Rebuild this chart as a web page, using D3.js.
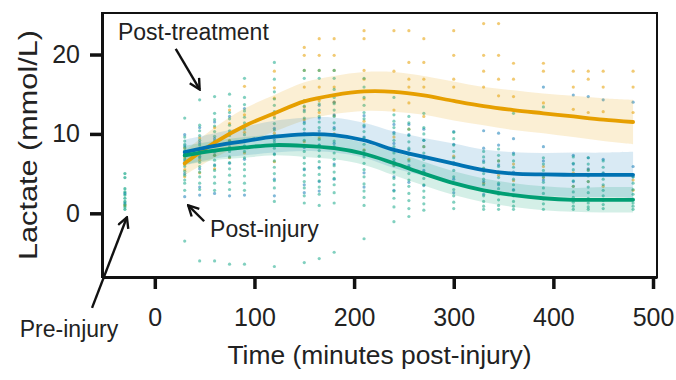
<!DOCTYPE html>
<html><head><meta charset="utf-8">
<script src="https://cdn.jsdelivr.net/npm/d3@7"></script>
<style>
html,body{margin:0;padding:0;background:#fff;}
svg{display:block;font-family:"Liberation Sans",Arial,Helvetica,sans-serif;}
</style></head>
<body>
<svg id="chart" width="676" height="380"></svg>
<script>
// ---------- data ----------
const xTicks = [0, 100, 200, 300, 400, 500];
const yTicks = [0, 10, 20];

const preInjuryTime = -30;
const preGreen = [5.0, 4.5, 3.1, 2.7, 2.3, 1.9, 1.5, 1.1, 0.8, 0.5];
const preBlue = [2.5, 1.3];
const preOrange = [1.0];

const times = [30, 45, 60, 75, 90, 120, 150, 165, 180, 210, 240, 255, 270, 300, 330, 345, 360, 390, 420, 435, 450, 480];

const greenPts = [
  [12.0, 9.6, 9.1, 8.7, 8.3, 7.9, 7.6, 7.2, 6.8, 6.3, 5.9, 5.3, 4.8, 4.2, 3.8, 2.9, -3.5],
  [14.3, 11.1, 10.4, 9.8, 9.2, 8.6, 8.1, 7.5, 7.0, 6.4, 5.9, 5.2, 4.6, 3.8, 3.0, -6.0],
  [14.7, 12.6, 11.8, 11.0, 10.3, 9.7, 9.1, 8.5, 7.9, 7.3, 6.7, 6.0, 5.4, 4.6, 3.8, 2.9, -6.0],
  [15.0, 13.5, 12.7, 11.9, 11.1, 10.4, 9.8, 9.1, 8.4, 7.8, 7.1, 6.4, 5.6, 4.8, 3.9, 3.0, -6.4],
  [17.0, 14.6, 13.7, 12.9, 12.1, 11.4, 10.6, 9.9, 9.2, 8.5, 7.8, 7.0, 6.2, 5.5, 4.7, 3.8, 2.9, -6.4],
  [19.0, 16.9, 15.3, 14.4, 13.6, 12.8, 12.0, 11.3, 10.5, 9.8, 9.0, 8.2, 7.4, 6.6, 5.8, 5.0, 4.1, 3.2, 1.5, -6.7],
  [18.0, 17.0, 14.2, 13.5, 12.8, 12.0, 11.3, 10.6, 9.9, 9.2, 8.5, 7.8, 7.0, 6.3, 5.6, 4.8, 4.0, 3.2, 2.2, 1.3, -6.2],
  [18.0, 17.0, 14.5, 13.8, 13.0, 12.2, 11.5, 10.8, 10.0, 9.3, 8.6, 7.9, 7.2, 6.5, 5.7, 4.9, 4.1, 3.3, 2.4, 1.0, -5.7],
  [18.0, 17.0, 15.6, 14.6, 13.8, 13.0, 12.2, 11.4, 10.6, 9.9, 9.1, 8.4, 7.6, 6.8, 6.0, 5.2, 4.4, 3.6, 2.6, 1.3, -4.9],
  [17.0, 15.9, 14.6, 13.6, 12.7, 11.9, 11.1, 10.3, 9.5, 8.7, 7.9, 7.1, 6.3, 5.5, 4.6, 3.7, 2.8, 2.0, 1.0, -3.2],
  [14.6, 12.4, 11.6, 10.8, 10.0, 9.2, 8.4, 7.6, 6.8, 6.0, 5.2, 4.4, 3.6, 2.8, 1.9, 0.8, -1.05],
  [12.2, 11.4, 10.6, 9.8, 9.0, 8.2, 7.4, 6.6, 5.8, 5.0, 4.2, 3.4, 2.5, 1.6, 0.6, -0.4],
  [12.6, 10.8, 10.0, 9.2, 8.4, 7.6, 6.8, 6.0, 5.2, 4.4, 3.6, 2.8, 2.0, 1.2, 0.4],
  [10.2, 9.4, 8.6, 7.8, 7.0, 6.2, 5.4, 4.6, 3.8, 3.0, 2.2, 1.4, 0.6],
  [7.8, 7.1, 6.4, 5.7, 5.0, 4.3, 3.6, 2.9, 2.2, 1.5, 0.9, 0.5],
  [8.1, 7.3, 6.6, 5.9, 5.2, 4.5, 3.8, 3.1, 2.4, 1.7, 1.0, 0.5],
  [12.6, 7.4, 6.6, 5.8, 5.0, 4.3, 3.6, 2.9, 2.2, 1.5, 0.9, 0.5],
  [13.4, 7.0, 6.2, 5.4, 4.6, 3.9, 3.2, 2.5, 1.8, 1.2, 0.5],
  [7.1, 6.3, 5.5, 4.8, 4.1, 3.4, 2.7, 2.0, 1.4, 0.9, 0.5],
  [7.0, 6.2, 5.4, 4.7, 4.0, 3.3, 2.6, 1.9, 1.3, 0.8, 0.5],
  [6.6, 5.8, 5.0, 4.3, 3.6, 2.9, 2.2, 1.6, 1.1, 0.6],
  [4.6, 3.8, 3.0, 2.4, 1.8, 1.3, 0.9, 0.5]
];

const bluePts = [
  [9.9, 8.5, 7.4, 6.6, 5.0, 2.1],
  [10.8, 8.9, 7.2, 5.6, 3.3, 2.3],
  [11.5, 9.4, 7.7, 6.1, 2.5],
  [12.2, 10.1, 8.2, 6.3, 2.2],
  [13.2, 11.0, 9.0, 6.8, 2.3],
  [12.6, 10.7, 9.3, 7.5, 4.3, 2.2],
  [13.0, 11.5, 10.1, 8.3, 5.5, 3.6, 2.6],
  [13.6, 12.0, 10.4, 8.6, 5.8, 4.0, 2.8],
  [14.0, 12.4, 10.8, 8.8, 6.2, 4.3],
  [12.3, 10.9, 9.6, 7.4, 5.1, 3.3],
  [11.2, 10.2, 8.8, 6.5, 4.6, 2.9],
  [11.2, 9.9, 8.0, 6.0, 3.9],
  [10.6, 9.2, 7.2, 5.4, 3.5],
  [10.3, 8.7, 6.4, 4.3, 2.6],
  [10.4, 8.2, 6.6, 4.0, 2.4],
  [10.1, 8.6, 6.1, 3.6],
  [9.4, 7.6, 5.2, 3.0],
  [15.9, 8.4, 6.6, 4.2],
  [14.9, 7.3, 6.2, 4.0],
  [14.7, 7.0, 5.6],
  [14.3, 6.8, 5.1],
  [14.0, 5.9, 4.6]
];

const orangePts = [
  [8.2, 7.0, 6.1, 5.5, 4.6],
  [9.5, 8.0, 6.7, 5.1],
  [10.8, 9.0, 7.3, 5.6],
  [13.0, 11.3, 9.2, 7.0],
  [16.0, 12.4, 10.2, 7.6],
  [17.9, 15.8, 14.5, 12.2, 10.1, 6.5],
  [20.9, 19.9, 18.0, 15.9, 13.4, 11.8, 9.0],
  [22.0, 19.9, 18.0, 15.9, 14.2, 12.7, 9.5],
  [22.0, 19.9, 18.0, 15.9, 14.0, 12.3, 10.0],
  [23.0, 22.0, 18.0, 16.9, 14.4, 11.6, 8.0],
  [23.0, 17.9, 13.0, 9.6, 6.1],
  [23.0, 19.0, 16.9, 15.9, 13.9, 10.6, 6.8],
  [22.0, 19.0, 16.9, 15.9, 12.2, 8.4],
  [23.0, 19.9, 16.9, 15.9, 7.2],
  [23.9, 19.9, 17.9, 15.9, 5.6, 3.8],
  [23.9, 19.9, 16.9, 14.8, 6.6, 4.8],
  [18.9, 16.9, 14.7, 6.2, 4.1],
  [18.9, 17.9, 13.9, 5.9, 4.5],
  [17.9, 15.9, 13.1, 5.1, 3.4],
  [17.9, 16.9, 12.7, 5.5, 4.0],
  [17.9, 15.9, 12.8, 4.9, 3.4],
  [17.9, 15.9, 12.7, 4.2, 2.9]
];

// fitted curves with confidence bands
const curveTimes = [30, 60, 90, 120, 150, 180, 210, 240, 270, 300, 330, 360, 390, 420, 450, 480];
const orangeMean = [6.3, 8.9, 11.0, 12.6, 14.1, 14.9, 15.35, 15.3, 14.85, 14.15, 13.5, 13.0, 12.6, 12.2, 11.8, 11.5];
const orangeLow  = [4.8, 7.0, 8.8, 10.3, 11.7, 12.5, 12.9, 12.8, 12.4, 11.7, 11.1, 10.5, 10.1, 9.6, 9.1, 8.7];
const orangeHigh = [7.8, 10.8, 13.2, 14.9, 16.5, 17.3, 17.8, 17.8, 17.3, 16.6, 15.9, 15.5, 15.1, 14.8, 14.5, 14.3];
const blueMean = [7.7, 8.5, 9.1, 9.65, 9.95, 9.85, 9.2, 8.0, 7.1, 6.25, 5.45, 5.0, 4.9, 4.85, 4.85, 4.85];
const blueLow  = [6.1, 6.9, 7.3, 7.65, 7.85, 7.65, 7.0, 5.7, 4.7, 3.8, 2.85, 2.3, 2.2, 2.05, 2.05, 1.95];
const blueHigh = [9.3, 10.1, 10.9, 11.65, 12.05, 12.05, 11.4, 10.3, 9.5, 8.8, 8.05, 7.7, 7.6, 7.65, 7.65, 7.75];
const greenMean = [7.3, 7.9, 8.3, 8.6, 8.5, 8.2, 7.5, 6.3, 5.0, 3.8, 2.9, 2.3, 1.9, 1.7, 1.7, 1.7];
const greenLow  = [6.1, 6.7, 7.0, 7.3, 7.1, 6.8, 6.1, 4.8, 3.5, 2.3, 1.4, 0.8, 0.4, 0.2, 0.1, 0.1];
const greenHigh = [8.5, 9.1, 9.6, 9.9, 9.9, 9.6, 8.9, 7.8, 6.5, 5.3, 4.4, 3.8, 3.4, 3.2, 3.3, 3.3];

// annotations (data coordinates)
const annotations = [
  {label: "Post-treatment", tx: -37, ty: 21.8, x1: 21, y1: 20.7, x2: 45, y2: 15.6},
  {label: "Post-injury", tx: 55.5, ty: -3.0, x1: 49.5, y1: -1.0, x2: 33.5, y2: 1.0},
  {label: "Pre-injury", tx: -135.5, ty: -15.6, x1: -63, y1: -11.9, x2: -28, y2: -0.5}
];

// ---------- chart ----------
const COL = {orange: "#E69F00", blue: "#0072B2", green: "#009E73"};
const svg = d3.select("#chart");
const mLeft = 102, mRight = 657, mTop = 13, mBottom = 277;
const x = d3.scaleLinear().domain([-53, 504]).range([mLeft, mRight]);
const y = d3.scaleLinear().domain([-8.02, 25.23]).range([mBottom, mTop]);

const plot = svg.append("g");

function drawPoints(cols, color, op) {
  const pts = [];
  cols.forEach((vals, i) => vals.forEach(v => pts.push([times[i], v])));
  plot.append("g").selectAll("circle").data(pts).join("circle")
    .attr("cx", d => x(d[0])).attr("cy", d => y(d[1])).attr("r", 1.6)
    .attr("fill", color).attr("fill-opacity", op);
}
function drawPre(vals, color, op) {
  plot.append("g").selectAll("circle").data(vals).join("circle")
    .attr("cx", x(preInjuryTime)).attr("cy", d => y(d)).attr("r", 1.6)
    .attr("fill", color).attr("fill-opacity", op);
}
drawPoints(orangePts, COL.orange, 0.55);
drawPoints(bluePts, COL.blue, 0.5);
drawPoints(greenPts, "#1aaa8a", 0.55);
drawPre(preOrange, COL.orange, 0.7);
drawPre(preBlue, COL.blue, 0.6);
drawPre(preGreen, "#1aaa8a", 0.7);

const smooth = d3.curveCatmullRom.alpha(0.5);
const area = d3.area().x((d, i) => x(curveTimes[i])).curve(smooth);
const line = d3.line().x((d, i) => x(curveTimes[i])).y(d => y(d)).curve(smooth);

function band(lo, hi, color, op) {
  plot.append("path").datum(lo.map((v, i) => [v, hi[i]]))
    .attr("d", area.y0(d => y(d[0])).y1(d => y(d[1])))
    .attr("fill", color).attr("fill-opacity", op).attr("stroke", "none");
}
band(orangeLow, orangeHigh, COL.orange, 0.17);
band(blueLow, blueHigh, COL.blue, 0.15);
band(greenLow, greenHigh, COL.green, 0.17);

[[orangeMean, COL.orange], [blueMean, COL.blue], [greenMean, COL.green]].forEach(([m, c]) => {
  plot.append("path").datum(m).attr("d", line)
    .attr("fill", "none").attr("stroke", c).attr("stroke-width", 3.8)
    .attr("stroke-linecap", "round");
});

// frame
svg.append("rect").attr("x", mLeft).attr("y", mTop).attr("width", mRight - mLeft).attr("height", mBottom - mTop)
  .attr("fill", "none").attr("stroke", "#111").attr("stroke-width", 2);

// axes
const xAxis = svg.append("g").attr("transform", `translate(0,${mBottom})`)
  .call(d3.axisBottom(x).tickValues(xTicks).tickSize(12).tickSizeOuter(0).tickPadding(19).tickFormat(d3.format("d")));
const yAxis = svg.append("g").attr("transform", `translate(${mLeft},0)`)
  .call(d3.axisLeft(y).tickValues(yTicks).tickSize(12).tickSizeOuter(0).tickPadding(10).tickFormat(d3.format("d")));
[xAxis, yAxis].forEach(g => {
  g.select(".domain").attr("stroke", "#111").attr("stroke-width", 3);
  g.selectAll(".tick line").attr("stroke", "#111").attr("stroke-width", 3.5);
  g.selectAll(".tick text").attr("fill", "#222").style("font-size", "25px")
    .style("font-family", '"Liberation Sans", Arial, sans-serif');
});

// axis titles
svg.append("text").attr("x", (mLeft + mRight) / 2).attr("y", 364).attr("text-anchor", "middle")
  .attr("fill", "#222").style("font-size", "26.4px").text("Time (minutes post-injury)");
svg.append("text").attr("transform", `translate(37,${(30 + 260) / 2}) rotate(-90)`)
  .attr("text-anchor", "middle").attr("fill", "#222").style("font-size", "26px")
  .attr("textLength", 230).attr("lengthAdjust", "spacingAndGlyphs")
  .text("Lactate (mmol/L)");

// arrows + annotation labels
const defs = svg.append("defs");
defs.append("marker").attr("id", "arrowhead").attr("viewBox", "0 0 12 12")
  .attr("refX", 10.5).attr("refY", 6).attr("markerWidth", 13).attr("markerHeight", 13)
  .attr("markerUnits", "userSpaceOnUse").attr("orient", "auto")
  .append("path").attr("d", "M1,1 L10.5,6 L1,11").attr("fill", "none")
  .attr("stroke", "#111").attr("stroke-width", 2.2);

annotations.forEach(a => {
  svg.append("line").attr("x1", x(a.x1)).attr("y1", y(a.y1)).attr("x2", x(a.x2)).attr("y2", y(a.y2))
    .attr("stroke", "#111").attr("stroke-width", 2.4).attr("marker-end", "url(#arrowhead)");
  svg.append("text").attr("x", x(a.tx)).attr("y", y(a.ty)).attr("fill", "#222")
    .style("font-size", "23px").text(a.label);
});
</script>
</body></html>
